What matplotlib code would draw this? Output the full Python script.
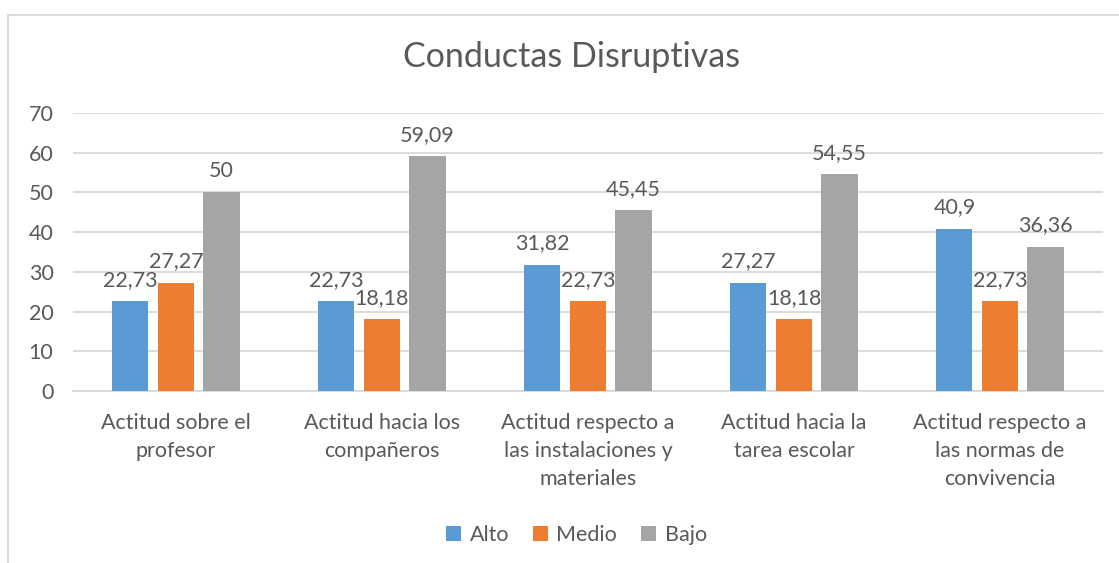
import numpy as np
import matplotlib
matplotlib.use("Agg")
import matplotlib.pyplot as plt
from matplotlib.patches import Rectangle

# Data
categories = ["Actitud sobre el\nprofesor",
              "Actitud hacia los\ncompañeros",
              "Actitud respecto a\nlas instalaciones y\nmateriales",
              "Actitud hacia la\ntarea escolar",
              "Actitud respecto a\nlas normas de\nconvivencia"]
series_names = ["Alto", "Medio", "Bajo"]
alto = [22.73, 22.73, 31.82, 27.27, 40.9]
medio = [27.27, 18.18, 22.73, 18.18, 22.73]
bajo = [50, 59.09, 45.45, 54.55, 36.36]
colors = ["#5B9BD5", "#ED7D31", "#A5A5A5"]

text_color = "#595959"
grid_color = "#D9D9D9"
fs = 15.5
plt.rcParams["font.family"] = ["Lato", "DejaVu Sans"]

fig = plt.figure(figsize=(11.19, 5.63), dpi=100)
ax = fig.add_axes([0.0652, 0.3055, 0.9205, 0.4938])

x = np.arange(len(categories))
width = 0.175
step = 0.221
for i, (name, vals) in enumerate(zip(series_names, [alto, medio, bajo])):
    bars = ax.bar(x + (i - 1) * step, vals, width, color=colors[i], label=name, zorder=3)
    for b, v in zip(bars, vals):
        ax.annotate(f"{v:g}".replace(".", ","),
                    (b.get_x() + b.get_width() / 2, b.get_height()),
                    xytext=(0, 8), textcoords="offset points",
                    ha="center", va="bottom", fontsize=fs, color=text_color)

ax.set_xlim(-0.5, len(categories) - 0.5)
ax.set_ylim(0, 70)
ax.set_yticks(range(0, 71, 10))
ax.yaxis.grid(True, color=grid_color, linewidth=1.3, zorder=0)
ax.set_axisbelow(True)
for s in ["top", "right", "left"]:
    ax.spines[s].set_visible(False)
ax.spines["bottom"].set_color(grid_color)
ax.spines["bottom"].set_linewidth(1.3)
ax.tick_params(axis="both", length=0, labelsize=fs, labelcolor=text_color)
ax.tick_params(axis="y", pad=14)
ax.tick_params(axis="x", pad=16)
ax.set_xticks(x)
ax.set_xticklabels(categories, linespacing=1.5)

fig.text(0.511, 0.898, "Conductas Disruptivas", ha="center", va="center",
         fontsize=24.5, color=text_color)

fig.legend(loc="center", bbox_to_anchor=(0.515, 0.05), ncol=3, frameon=False,
           fontsize=fs, labelcolor=text_color, handlelength=0.7, handleheight=0.7,
           handletextpad=0.4, columnspacing=1.1)

# chart border (cropped on the right and bottom)
fig.patches.append(Rectangle((8 / 1119, -0.1), 1.2, 1 - 15 / 563 + 0.1,
                             transform=fig.transFigure, fill=False,
                             edgecolor=grid_color, linewidth=1.3))

fig.savefig("out.png", dpi=100)
